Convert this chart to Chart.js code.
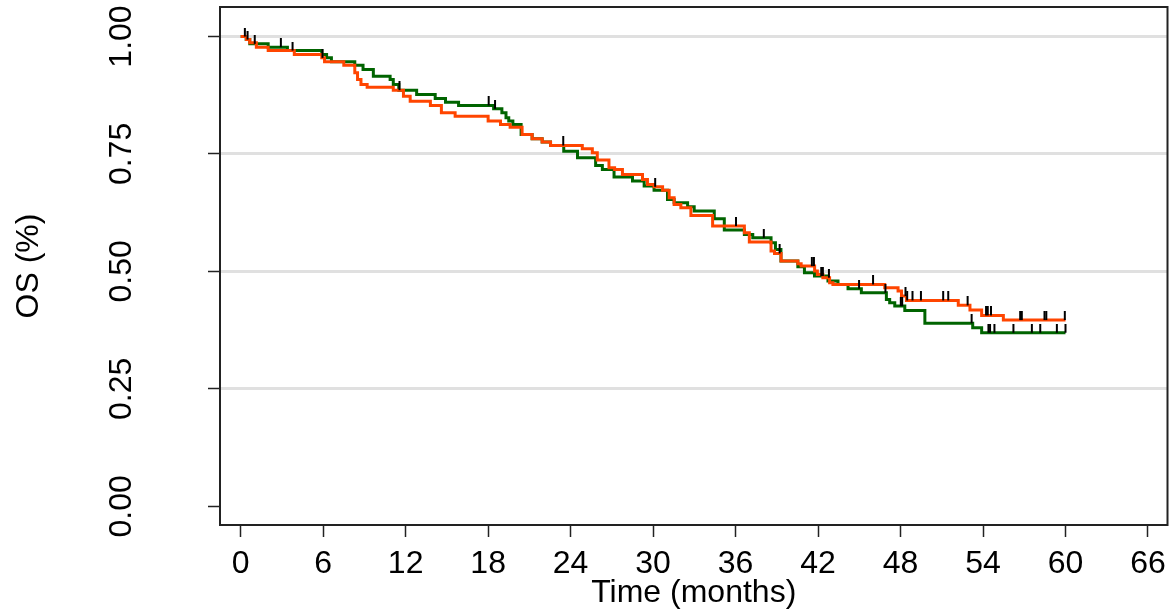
<!DOCTYPE html>
<html><head><meta charset="utf-8">
<script src="https://cdn.jsdelivr.net/npm/chart.js@4"></script>
<style>html,body{margin:0;padding:0;background:#fff;overflow:hidden}</style>
</head><body>
<canvas id="c" width="1169" height="613"></canvas>
<script>
const xTicks = [0, 6, 12, 18, 24, 30, 36, 42, 48, 54, 60, 66];
const yTicks = [0, 0.25, 0.5, 0.75, 1];
const yTickLabels = ['0.00', '0.25', '0.50', '0.75', '1.00'];
const xTitle = 'Time (months)';
const yTitle = 'OS (%)';

const greenTimes = [0, 0.4, 0.66, 2.0, 3.4, 5.9, 6.25, 6.6, 8.3, 8.9, 9.65, 10.87, 11.1, 11.5, 12.8, 14.15, 14.9, 15.85, 18.4, 19.0, 19.3, 19.5, 19.8, 20.4, 21.2, 21.93, 22.54, 23.5, 24.5, 25.82, 26.31, 27.16, 28.5, 29.35, 30.07, 31.05, 31.53, 32.51, 32.99, 34.45, 35.18, 36.64, 37.25, 38.58, 38.9, 39.3, 40.53, 41.01, 41.74, 42.72, 43.45, 44.18, 45.15, 46.97, 47.21, 47.58, 48.31, 49.77, 53.25, 53.9, 60.0];
const greenSurv = [1.0, 0.9936, 0.9844, 0.9773, 0.9702, 0.9617, 0.9546, 0.9461, 0.939, 0.9298, 0.9156, 0.9085, 0.8979, 0.8858, 0.8766, 0.8681, 0.8603, 0.8532, 0.8461, 0.8376, 0.827, 0.8199, 0.8128, 0.7915, 0.7823, 0.7752, 0.7681, 0.756, 0.7418, 0.7255, 0.717, 0.7007, 0.6922, 0.6816, 0.673, 0.6532, 0.6461, 0.6376, 0.6284, 0.6121, 0.5879, 0.5787, 0.5716, 0.561, 0.5468, 0.522, 0.5099, 0.4972, 0.4901, 0.4794, 0.4723, 0.4631, 0.4546, 0.4404, 0.4333, 0.4262, 0.417, 0.3894, 0.3801, 0.3695, 0.3695];

const orangeTimes = [0, 0.42, 0.66, 1.14, 2.0, 3.9, 5.9, 6.1, 7.5, 8.3, 8.5, 8.75, 9.2, 11.1, 11.84, 12.33, 13.8, 14.6, 15.6, 18.0, 18.9, 19.6, 20.47, 21.2, 21.93, 22.54, 24.85, 25.58, 25.94, 26.79, 27.2, 27.77, 29.23, 29.59, 30.07, 30.69, 31.17, 31.53, 32.02, 32.75, 34.33, 36.64, 37.0, 38.58, 38.83, 39.31, 40.53, 40.77, 41.75, 41.95, 42.35, 42.84, 43.08, 46.85, 47.82, 48.07, 48.43, 52.2, 53.05, 53.9, 55.48, 60.0];
const orangeSurv = [1.0, 0.9936, 0.9865, 0.9773, 0.9702, 0.9617, 0.9546, 0.9461, 0.939, 0.9227, 0.9085, 0.8979, 0.8922, 0.8858, 0.873, 0.8624, 0.8532, 0.8376, 0.8305, 0.8199, 0.8128, 0.807, 0.7915, 0.7823, 0.7752, 0.7681, 0.761, 0.7525, 0.7369, 0.7206, 0.717, 0.7064, 0.6957, 0.6851, 0.6801, 0.673, 0.6567, 0.6426, 0.6355, 0.6191, 0.5965, 0.5823, 0.5624, 0.5433, 0.5383, 0.522, 0.5163, 0.5113, 0.5007, 0.4936, 0.4865, 0.4759, 0.4723, 0.4652, 0.4582, 0.4475, 0.4383, 0.4277, 0.4177, 0.4064, 0.3965, 0.3965];

const greenCensor = [0.3, 0.5, 1.02, 2.92, 3.77, 11.55, 18.04, 18.5, 38.05, 42.23, 42.35, 44.98, 46.9, 48.02, 48.12, 53.17, 54.39, 54.51, 54.83, 56.21, 57.55, 58.16, 59.37, 60.0];
const orangeCensor = [5.95, 23.46, 30.15, 36.03, 39.2, 41.55, 41.7, 42.79, 46.0, 48.36, 48.48, 48.87, 49.48, 51.1, 51.47, 52.88, 54.22, 54.34, 54.58, 56.7, 56.82, 58.47, 58.6, 59.95];

function survAt(times, surv, t) {
  let s = surv[0];
  for (let i = 0; i < times.length; i++) { if (times[i] <= t) s = surv[i]; else break; }
  return s;
}
const pts = (times, surv) => times.map((t, i) => ({x: t, y: surv[i]}));
const censorPts = (c, times, surv) => c.map(t => ({x: t, y: survAt(times, surv, t)}));

const tickImg = document.createElement('canvas');
tickImg.width = 4; tickImg.height = 18;
const tcx = tickImg.getContext('2d');
tcx.fillStyle = '#000';
tcx.fillRect(1, 0, 2, 9);

const FONT = "'Liberation Sans', Arial, Helvetica, sans-serif";
const GREEN = '#006400';
const ORANGE = '#ff4500';

const framePlugin = {
  id: 'frame',
  afterDraw(chart) {
    const {ctx, chartArea: a} = chart;
    ctx.save();
    ctx.strokeStyle = '#222';
    ctx.lineWidth = 2;
    ctx.strokeRect(a.left, a.top, a.right - a.left, a.bottom - a.top);
    ctx.restore();
  }
};
const noPad = s => { s.paddingTop = 0; s.paddingBottom = 0; s.paddingLeft = 0; s.paddingRight = 0; };

new Chart(document.getElementById('c'), {
  type: 'line',
  data: {
    datasets: [
      {type: 'scatter', data: censorPts(orangeCensor, orangeTimes, orangeSurv), pointStyle: tickImg, pointRadius: 3, showLine: false},
      {type: 'scatter', data: censorPts(greenCensor, greenTimes, greenSurv), pointStyle: tickImg, pointRadius: 3, showLine: false},
      {data: pts(orangeTimes, orangeSurv), borderColor: ORANGE, borderWidth: 3, stepped: true, pointRadius: 0, fill: false},
      {data: pts(greenTimes, greenSurv), borderColor: GREEN, borderWidth: 3, stepped: true, pointRadius: 0, fill: false}
    ]
  },
  options: {
    responsive: false,
    animation: false,
    events: [],
    layout: {autoPadding: false, padding: {top: 7, right: 1.5, bottom: 0, left: 0}},
    plugins: {legend: {display: false}, tooltip: {enabled: false}},
    scales: {
      x: {
        type: 'linear', min: -1.505, max: 67.42,
        afterBuildTicks: s => { s.ticks = xTicks.map(v => ({value: v})); },
        afterFit: s => { s.height = 88; noPad(s); },
        grid: {drawOnChartArea: false, drawTicks: true, tickLength: 12, tickColor: '#222', tickWidth: 1.5},
        border: {display: false},
        ticks: {autoSkip: false, maxRotation: 0, minRotation: 0, padding: 8, color: '#000', font: {family: FONT, size: 32},
                callback: v => String(v)},
        title: {display: true, text: xTitle, color: '#000', font: {family: FONT, size: 32}, padding: {top: 0, bottom: 0.5}}
      },
      y: {
        type: 'linear', min: -0.0398, max: 1.0628,
        afterBuildTicks: s => { s.ticks = yTicks.map(v => ({value: v})); },
        afterFit: s => { s.width = 220; noPad(s); },
        grid: {color: c => (c.tick && c.tick.value === 0) ? 'rgba(0,0,0,0)' : '#e0e0e0', lineWidth: 3,
               drawTicks: true, tickLength: 12, tickColor: '#222', tickWidth: 1.5},
        border: {display: false},
        ticks: {autoSkip: false, minRotation: 90, maxRotation: 90, crossAlign: 'center', padding: 55, color: '#000',
                font: {family: FONT, size: 32}, callback: v => yTickLabels[yTicks.indexOf(v)]},
        title: {display: true, text: yTitle, color: '#000', font: {family: FONT, size: 32}, padding: {top: 10, bottom: 0}}
      }
    }
  },
  plugins: [framePlugin]
});
</script>
</body></html>
